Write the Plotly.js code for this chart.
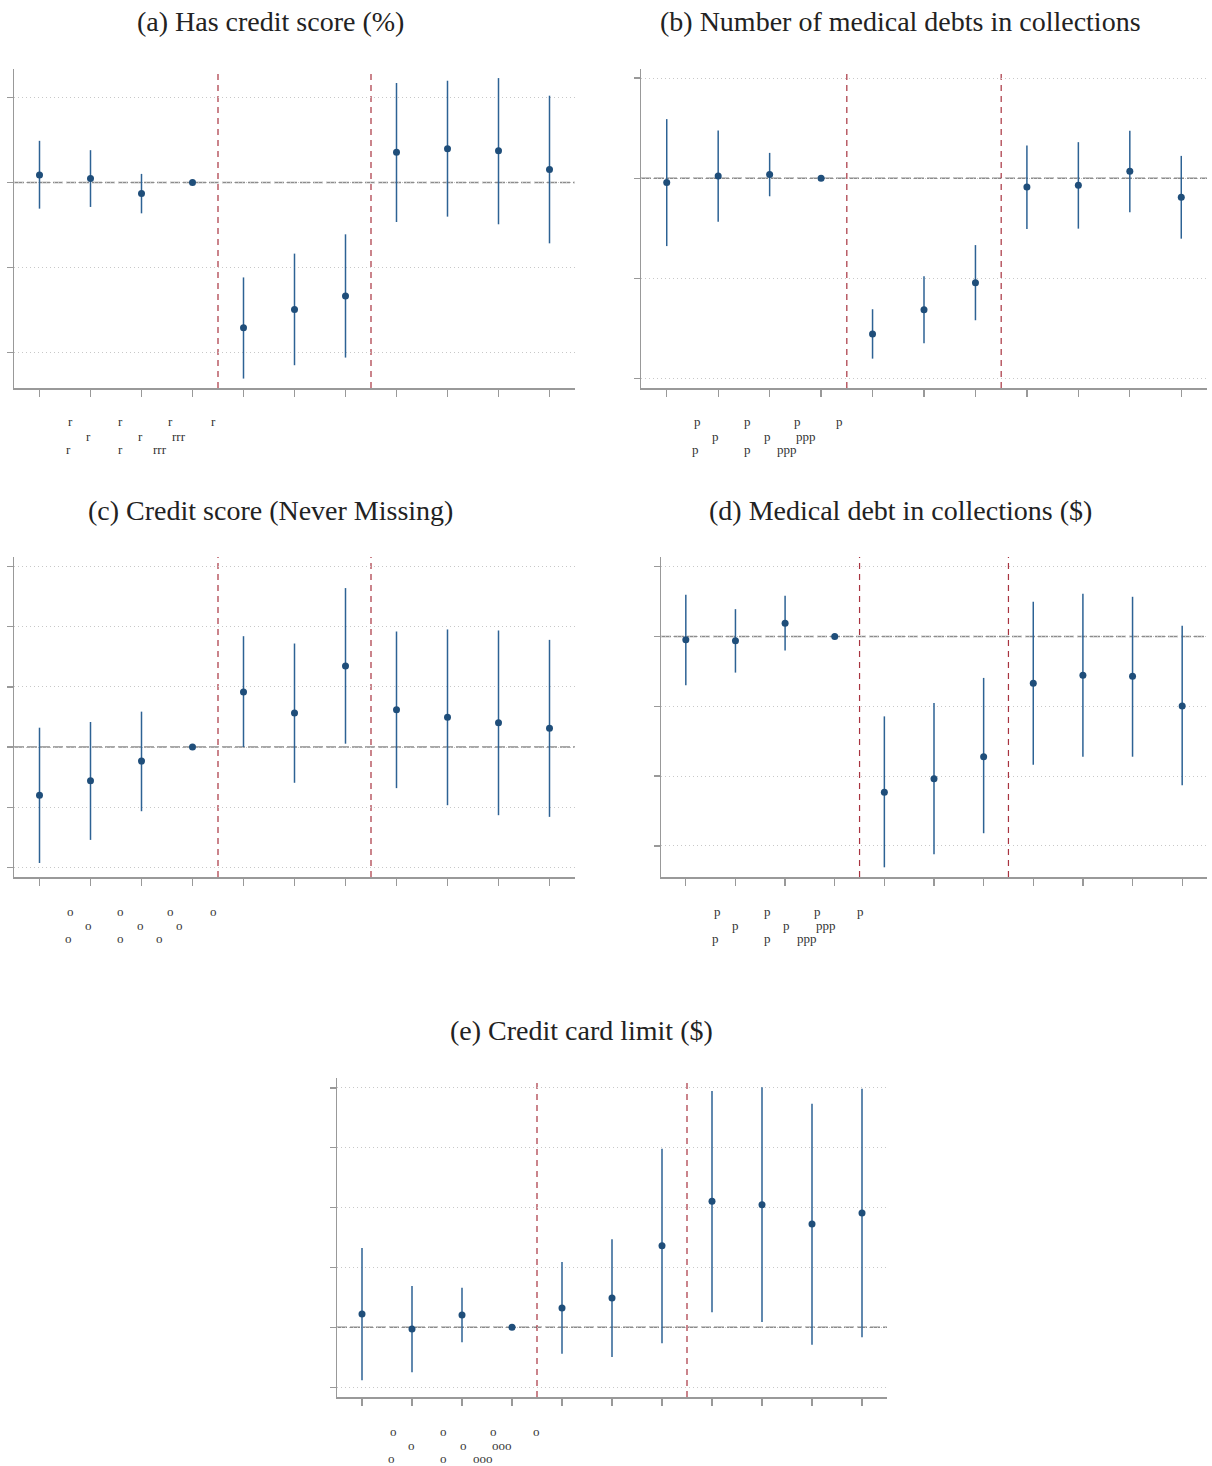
<!DOCTYPE html>
<html>
<head>
<meta charset="utf-8">
<script src="https://cdn.plot.ly/plotly-3.0.1.min.js"></script>
<style>html,body{margin:0;padding:0;background:#fff;}#chart{width:1212px;height:1466px;}</style>
</head>
<body>
<div id="chart"></div>
<script>
// ---- data ----
const eventTime = [1, 2, 3, 4, 5, 6, 7, 8, 9, 10, 11];
const periodBreaks = [4.5, 7.5];
const baseline = 0;

const titles = [
  "(a) Has credit score (%)",
  "(b) Number of medical debts in collections",
  "(c) Credit score (Never Missing)",
  "(d) Medical debt in collections ($)",
  "(e) Credit card limit ($)"
];

const aEst = [0.090, 0.047, -0.130, 0, -1.709, -1.493, -1.336, 0.358, 0.397, 0.373, 0.153];
const aHi  = [0.491, 0.381, 0.102, 0, -1.116, -0.836, -0.609, 1.171, 1.198, 1.229, 1.022];
const aLo  = [-0.307, -0.287, -0.362, 0, -2.306, -2.149, -2.059, -0.464, -0.401, -0.491, -0.715];

const bEst = [-0.043, 0.023, 0.037, 0, -1.553, -1.313, -1.043, -0.087, -0.070, 0.070, -0.190];
const bHi  = [0.590, 0.477, 0.253, 0, -1.307, -0.977, -0.667, 0.327, 0.360, 0.473, 0.223];
const bLo  = [-0.677, -0.433, -0.180, 0, -1.800, -1.647, -1.417, -0.507, -0.503, -0.340, -0.603];

const cEst = [-0.800, -0.561, -0.233, 0, 0.917, 0.567, 1.350, 0.622, 0.494, 0.406, 0.311];
const cHi  = [0.322, 0.417, 0.589, 0, 1.844, 1.722, 2.644, 1.922, 1.956, 1.939, 1.783];
const cLo  = [-1.928, -1.544, -1.067, 0, 0.000, -0.594, 0.056, -0.683, -0.967, -1.133, -1.161];

const dEst = [-0.048, -0.062, 0.191, 0, -2.230, -2.038, -1.722, -0.670, -0.555, -0.569, -0.995];
const dHi  = [0.600, 0.392, 0.584, 0, -1.144, -0.952, -0.593, 0.498, 0.612, 0.569, 0.153];
const dLo  = [-0.699, -0.517, -0.201, 0, -3.306, -3.120, -2.818, -1.837, -1.722, -1.722, -2.129];

const eEst = [0.223, -0.028, 0.206, 0, 0.323, 0.490, 1.364, 2.105, 2.049, 1.726, 1.910];
const eHi  = [1.325, 0.690, 0.662, 0, 1.091, 1.470, 2.985, 3.947, 4.009, 3.736, 3.987];
const eLo  = [-0.885, -0.752, -0.251, 0, -0.441, -0.496, -0.267, 0.251, 0.089, -0.290, -0.167];

const yTicksA = [-2, -1, 0, 1];
const yTicksB = [-2, -1, 0, 1];
const yTicksC = [-2, -1, 0, 1, 2, 3];
const yTicksD = [-3, -2, -1, 0, 1];
const yTicksE = [-1, 0, 1, 2, 3, 4];

// garbled tick-label glyphs, three rows per panel
const glyphsA = [["r", "r", "r", "r"], ["r", "r", "rrr"], ["r", "r", "rrr"]];
const glyphsB = [["p", "p", "p", "p"], ["p", "p", "ppp"], ["p", "p", "ppp"]];
const glyphsC = [["o", "o", "o", "o"], ["o", "o", "o"], ["o", "o", "o"]];
const glyphsD = [["p", "p", "p", "p"], ["p", "p", "ppp"], ["p", "p", "ppp"]];
const glyphsE = [["o", "o", "o", "o"], ["o", "o", "ooo"], ["o", "o", "ooo"]];

// ---- layout helpers ----
const W = 1212, H = 1466;
const px = v => v / W;
const py = v => 1 - v / H;

const panels = [
  {est: aEst, hi: aHi, lo: aLo, ticks: yTicksA, range: [-2.417, 1.336], box: [14, 575, 69, 388], title: [270, 21], glyphs: glyphsA},
  {est: bEst, hi: bHi, lo: bLo, ticks: yTicksB, range: [-2.093, 1.09], box: [641, 1207, 69, 388], title: [900, 21], glyphs: glyphsB},
  {est: cEst, hi: cHi, lo: cLo, ticks: yTicksC, range: [-2.161, 3.161], box: [14, 575, 557, 877], title: [270, 510], glyphs: glyphsC},
  {est: dEst, hi: dHi, lo: dLo, ticks: yTicksD, range: [-3.445, 1.139], box: [661, 1207, 557, 877], title: [900, 510], glyphs: glyphsD},
  {est: eEst, hi: eHi, lo: eLo, ticks: yTicksE, range: [-1.164, 4.165], box: [337, 887, 1078, 1397], title: [581, 1030], glyphs: glyphsE}
];

const rowX = [[56, 106, 156, 199], [74, 126, 165], [54, 106, 146]];
const rowDY = [34, 48, 61];

const traces = [];
const layout = {
  width: W, height: H,
  margin: {l: 0, r: 0, t: 0, b: 0},
  paper_bgcolor: "#ffffff",
  plot_bgcolor: "#ffffff",
  showlegend: false,
  shapes: [],
  annotations: []
};

panels.forEach((p, i) => {
  const n = i + 1;
  const xa = "x" + n, ya = "y" + n;
  const xk = n === 1 ? "xaxis" : "xaxis" + n;
  const yk = n === 1 ? "yaxis" : "yaxis" + n;
  const [x0, x1, yt, yb] = p.box;

  traces.push({
    type: "scatter", mode: "markers",
    x: eventTime, y: p.est, xaxis: xa, yaxis: ya,
    marker: {color: "#1f4e7a", size: 7},
    error_y: {
      type: "data", symmetric: false,
      array: p.hi.map((h, k) => h - p.est[k]),
      arrayminus: p.lo.map((l, k) => p.est[k] - l),
      width: 0, thickness: 1.5, color: "#2d6294"
    },
    hoverinfo: "x+y"
  });

  layout[xk] = {
    domain: [px(x0), px(x1)], anchor: ya,
    range: [0.5, 11.5], tickvals: eventTime, showticklabels: false,
    ticks: "outside", ticklen: 7, tickwidth: 1.3, tickcolor: "#999",
    showline: true, linecolor: "#999", linewidth: 1.5,
    showgrid: false, zeroline: false, fixedrange: true
  };
  layout[yk] = {
    domain: [py(yb), py(yt)], anchor: xa,
    range: p.range, tickvals: p.ticks, showticklabels: false,
    ticks: "outside", ticklen: 6, tickwidth: 1.3, tickcolor: "#999",
    showline: true, linecolor: "#999", linewidth: 1.5,
    showgrid: true, gridcolor: "#c8c8c8", gridwidth: 1, griddash: "1px,3px",
    zeroline: false, fixedrange: true
  };

  layout.shapes.push({
    type: "line", layer: "below",
    xref: xa + " domain", x0: 0, x1: 1,
    yref: ya, y0: baseline, y1: baseline,
    line: {color: "#8c8c8c", width: 1.5, dash: "10px,3px"}
  });
  periodBreaks.forEach(b => {
    layout.shapes.push({
      type: "line", layer: "below",
      xref: xa, x0: b, x1: b,
      yref: ya + " domain", y0: 0, y1: 1,
      line: {color: "#a8333f", width: 1.2, dash: "6px,5px"}
    });
  });

  layout.annotations.push({
    text: titles[i], xref: "paper", yref: "paper",
    x: px(p.title[0]), y: py(p.title[1]),
    xanchor: "center", yanchor: "middle", showarrow: false,
    font: {family: "Liberation Serif, serif", size: 28, color: "#222"}
  });

  p.glyphs.forEach((row, r) => {
    row.forEach((g, k) => {
      layout.annotations.push({
        text: g, xref: "paper", yref: "paper",
        x: px(x0 + rowX[r][k]), y: py(yb + rowDY[r]),
        xanchor: "center", yanchor: "middle", showarrow: false,
        font: {family: "Liberation Serif, serif", size: 13, color: "#333"}
      });
    });
  });
});

Plotly.newPlot("chart", traces, layout, {displayModeBar: false, staticPlot: true});
</script>
</body>
</html>
